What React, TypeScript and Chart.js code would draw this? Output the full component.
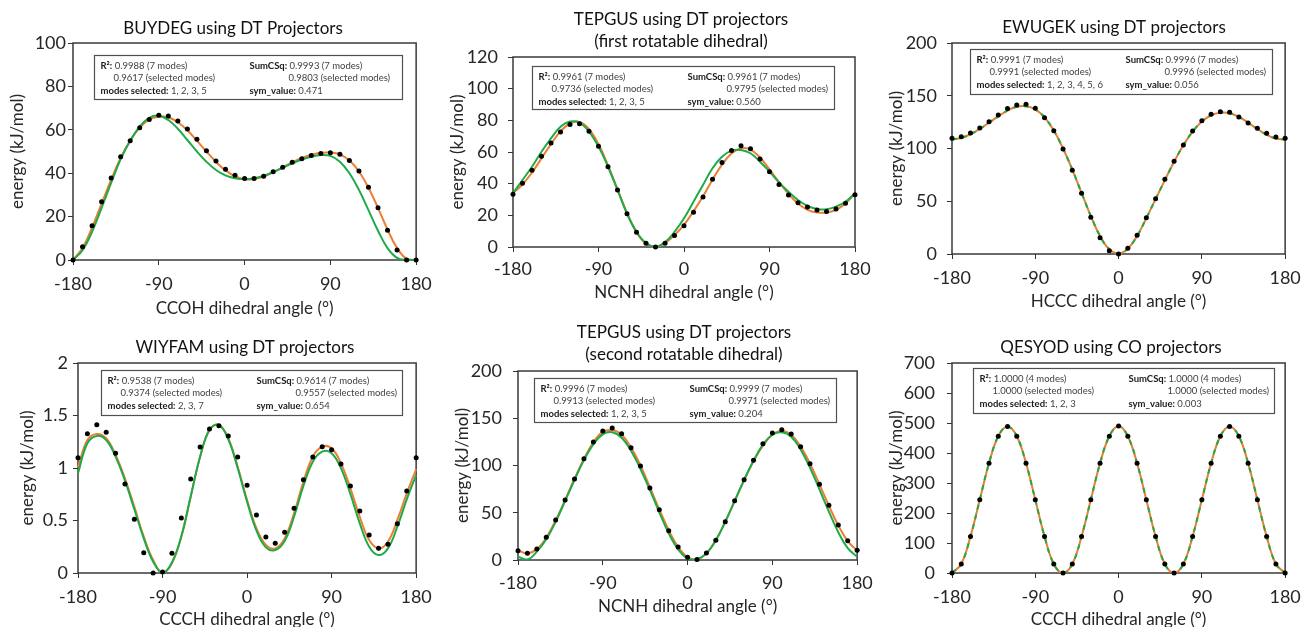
import React, { useEffect, useRef } from "react";
import { Chart, registerables } from "chart.js";

Chart.register(...registerables);

// ---------------- data ----------------
const ANGLES = [
  -180, -170, -160, -150, -140, -130, -120, -110, -100, -90, -80, -70, -60, -50, -40, -30, -20, -10,
  0, 10, 20, 30, 40, 50, 60, 70, 80, 90, 100, 110, 120, 130, 140, 150, 160, 170, 180,
];
const X_TICKS = [-180, -90, 0, 90, 180];

// BUYDEG
const BUYDEG_POINTS = [0, 6.1, 15.8, 26.9, 37.8, 47.6, 55, 61, 64.8, 66.7, 66.4, 64, 60.4, 55.6, 50.4, 45.6, 41.8, 39, 37.6, 37.6, 38.6, 40.7, 42.7, 45, 46.7, 48.2, 49.1, 49.4, 48.7, 45.8, 41, 33.5, 24.1, 13.7, 4.6, 0, 0];
const BUYDEG_FIT_ALL = [0, 5.5, 15, 26, 37, 47, 55, 61, 64.8, 66, 65.8, 63.5, 59.8, 55, 50, 45.2, 41.3, 38.6, 37.2, 37.4, 38.5, 40.5, 42.7, 45, 47, 48.5, 49.4, 49.5, 48.7, 45.8, 40.8, 33.3, 24, 14, 5.5, 0.5, 0];
const BUYDEG_FIT_SEL = [0, 4.5, 13, 24, 35.5, 46.5, 55, 61.5, 65.5, 66.5, 64.5, 60.5, 55.3, 50, 45.3, 41.5, 39, 37.7, 37.3, 37.7, 38.8, 40.5, 42.5, 44.5, 46.3, 47.6, 48.4, 48, 45.3, 40, 32.3, 23, 13.5, 5.5, 1, 0, 0];
const BUYDEG_Y_TICKS = [0, 20, 40, 60, 80, 100];
const BUYDEG_STATS = ["0.9988 (7 modes)", "0.9617 (selected modes)", "1, 2, 3, 5", "0.9993 (7 modes)", "0.9803 (selected modes)", "0.471"];

// TEPGUS first dihedral
const TEPGUS1_POINTS = [33.3, 40.2, 48.4, 57.3, 65.7, 72.6, 77.3, 77.9, 73.1, 63.6, 50.7, 36, 21, 9.3, 2.3, 0, 2.3, 7.2, 13.5, 21.9, 31.6, 42.8, 53.3, 60.9, 64, 62.1, 55.6, 47.6, 39.4, 32.8, 28, 25.3, 23.4, 22.5, 24, 27.6, 33];
const TEPGUS1_FIT_ALL = [34, 39.5, 47, 56, 65, 73, 78, 79, 74.5, 65, 51.5, 36.5, 21.5, 9.5, 2, 0, 2.5, 7.5, 14, 22.5, 32, 42.5, 52, 59, 62.3, 61.5, 56.5, 49, 41, 33.5, 27.5, 23.5, 21.8, 21.8, 23.5, 27.5, 34];
const TEPGUS1_FIT_SEL = [34, 42.3, 50.7, 60.2, 68.6, 76, 79.2, 78.6, 72.9, 63.4, 50.7, 36, 21, 9.5, 2.5, 0.2, 3, 9.5, 18.1, 28.6, 39.2, 49.7, 57, 60.9, 61.3, 59.2, 53.9, 47.6, 40.8, 34.9, 29.7, 25.9, 24, 23.8, 25.5, 28.6, 34];
const TEPGUS1_Y_TICKS = [0, 20, 40, 60, 80, 100, 120];
const TEPGUS1_STATS = ["0.9961 (7 modes)", "0.9736 (selected modes)", "1, 2, 3, 5", "0.9961 (7 modes)", "0.9795 (selected modes)", "0.560"];

// EWUGEK
const EWUGEK_POINTS = [109.7, 111.2, 114.7, 119.4, 125.4, 131.8, 137.8, 141.2, 141.9, 138.1, 129.2, 116.9, 99.5, 79.3, 57.5, 34.8, 15.5, 3.1, 0, 5.4, 17.7, 34.4, 52.4, 70.8, 87.9, 103.3, 116.6, 126.4, 132.4, 134.9, 134.3, 129.9, 124.2, 119.1, 114.4, 110.9, 109.7];
const EWUGEK_FIT_ALL = [108.5, 110, 113.5, 118.5, 124.5, 130.5, 136, 139.5, 140, 137, 129.5, 117, 100, 80, 58, 36, 17, 4.5, 0.5, 5, 17, 34, 52, 70, 87.5, 103, 116, 125.5, 131.5, 134, 133.5, 130, 124.5, 118.5, 113, 109.5, 108.5];
const EWUGEK_FIT_SEL = [108.5, 110, 113.5, 118.5, 124.5, 130.5, 136, 139.5, 140, 137, 129.5, 117, 100, 80, 58, 36, 17, 4.5, 0.5, 5, 17, 34, 52, 70, 87.5, 103, 116, 125.5, 131.5, 134, 133.5, 130, 124.5, 118.5, 113, 109.5, 108.5];
const EWUGEK_Y_TICKS = [0, 50, 100, 150, 200];
const EWUGEK_STATS = ["0.9991 (7 modes)", "0.9991 (selected modes)", "1, 2, 3, 4, 5, 6", "0.9996 (7 modes)", "0.9996 (selected modes)", "0.056"];

// WIYFAM
const WIYFAM_POINTS = [1.098, 1.327, 1.412, 1.34, 1.14, 0.848, 0.511, 0.194, 0.0, 0.01, 0.187, 0.524, 0.895, 1.2, 1.371, 1.403, 1.305, 1.105, 0.835, 0.552, 0.343, 0.283, 0.387, 0.616, 0.889, 1.105, 1.203, 1.175, 1.038, 0.829, 0.59, 0.362, 0.235, 0.273, 0.47, 0.781, 1.098];
const WIYFAM_FIT_ALL = [1.006, 1.267, 1.324, 1.283, 1.124, 0.9, 0.63, 0.346, 0.124, 0.0, 0.092, 0.346, 0.727, 1.108, 1.362, 1.41, 1.283, 1.012, 0.695, 0.425, 0.267, 0.235, 0.33, 0.568, 0.87, 1.108, 1.203, 1.187, 1.044, 0.807, 0.536, 0.314, 0.235, 0.298, 0.505, 0.759, 0.988];
const WIYFAM_FIT_SEL = [0.95, 1.235, 1.305, 1.267, 1.108, 0.879, 0.607, 0.33, 0.108, 0.0, 0.1, 0.35, 0.73, 1.108, 1.365, 1.41, 1.274, 1.0, 0.679, 0.403, 0.244, 0.219, 0.305, 0.536, 0.829, 1.06, 1.156, 1.14, 0.997, 0.752, 0.473, 0.25, 0.171, 0.235, 0.441, 0.702, 0.933];
const WIYFAM_Y_TICKS = [0, 0.5, 1, 1.5, 2];
const WIYFAM_STATS = ["0.9538 (7 modes)", "0.9374 (selected modes)", "2, 3, 7", "0.9614 (7 modes)", "0.9557 (selected modes)", "0.654"];

// TEPGUS second dihedral
const TEPGUS2_POINTS = [9.9, 7.1, 11.6, 24, 42.3, 63.5, 85.7, 107.2, 124.9, 136.5, 139.7, 133.7, 118.8, 99.5, 76.2, 53.2, 31, 13.8, 2.8, 0.5, 7.4, 20.8, 40.5, 62.8, 85, 105.5, 123.1, 134.4, 137.9, 133.3, 119.9, 101.9, 80.1, 57.9, 37, 20.4, 10.3];
const TEPGUS2_FIT_ALL = [10, 7, 11.5, 23.5, 42, 63.5, 86, 107, 124.5, 135.5, 137.5, 132.5, 119, 100, 77, 53.5, 31.5, 14, 3, 0.5, 7, 21, 40.5, 62.5, 84.5, 104.5, 121, 132.5, 136.5, 132.5, 120, 102, 80, 57.5, 36.5, 20, 10];
const TEPGUS2_FIT_SEL = [3.5, 0.5, 8.8, 21.9, 40.5, 62.4, 84.7, 105.8, 122.4, 133, 135.1, 129.4, 115.7, 96.3, 74.1, 50.5, 28.2, 11.3, 1.8, 0.8, 7, 20.8, 40.5, 62.4, 84.7, 105, 122, 132.5, 135.1, 130.5, 117, 97.6, 74.8, 51.2, 29.4, 12.5, 3.5];
const TEPGUS2_Y_TICKS = [0, 50, 100, 150, 200];
const TEPGUS2_STATS = ["0.9996 (7 modes)", "0.9913 (selected modes)", "1, 2, 3, 5", "0.9999 (7 modes)", "0.9971 (selected modes)", "0.204"];

// QESYOD
const QESYOD_POINTS = [0, 30, 122, 244, 366, 456, 488, 456, 366, 244, 122, 30, 0, 30, 122, 244, 366, 456, 490, 456, 366, 244, 122, 30, 0, 30, 122, 244, 366, 456, 488, 456, 366, 244, 122, 30, 0];
const QESYOD_FIT_ALL = [0, 30, 122, 244, 366, 456, 488, 456, 366, 244, 122, 30, 0, 30, 122, 244, 366, 456, 490, 456, 366, 244, 122, 30, 0, 30, 122, 244, 366, 456, 488, 456, 366, 244, 122, 30, 0];
const QESYOD_FIT_SEL = [0, 30, 122, 244, 366, 456, 488, 456, 366, 244, 122, 30, 0, 30, 122, 244, 366, 456, 490, 456, 366, 244, 122, 30, 0, 30, 122, 244, 366, 456, 488, 456, 366, 244, 122, 30, 0];
const QESYOD_Y_TICKS = [0, 100, 200, 300, 400, 500, 600, 700];
const QESYOD_STATS = ["1.0000 (4 modes)", "1.0000 (selected modes)", "1, 2, 3", "1.0000 (4 modes)", "1.0000 (selected modes)", "0.003"];

// ---------------- layout / style ----------------
const FONT = "Lato, 'Open Sans', sans-serif";
const ORANGE = "#ED7D31";
const GREEN = "#1FAA4A";
const TEXT = "#262626";

type PanelDef = {
  id: string;
  titleLines: string[];
  xTitle: string;
  points: (number | null)[];
  fitAll: number[];
  fitSel: number[];
  yTicks: number[];
  stats: string[];
  dashedSel: boolean;
  cv: [number, number, number, number];
  area: [number, number, number, number];
  titleX: number;
  titleY: number[];
  xTitleY: number;
  yTitleX: number;
  xTickY: number;
  yTickGap: number;
  box: [number, number, number, number];
};

const PANELS: PanelDef[] = [
  {
    id: "BUYDEG", titleLines: ["BUYDEG using DT Projectors"], xTitle: "CCOH dihedral angle (°)",
    points: BUYDEG_POINTS, fitAll: BUYDEG_FIT_ALL, fitSel: BUYDEG_FIT_SEL, yTicks: BUYDEG_Y_TICKS, stats: BUYDEG_STATS, dashedSel: false,
    cv: [0, 0, 440, 318], area: [73, 43, 423, 260], titleX: 233, titleY: [29], xTitleY: 309, yTitleX: 18, xTickY: 284, yTickGap: 7,
    box: [21, 12, 308, 44],
  },
  {
    id: "TEPGUS1", titleLines: ["TEPGUS using DT projectors", "(first rotatable dihedral)"], xTitle: "NCNH dihedral angle (°)",
    points: TEPGUS1_POINTS, fitAll: TEPGUS1_FIT_ALL, fitSel: TEPGUS1_FIT_SEL, yTicks: TEPGUS1_Y_TICKS, stats: TEPGUS1_STATS, dashedSel: false,
    cv: [440, 0, 440, 318], area: [513, 57, 855, 247], titleX: 681, titleY: [20, 42], xTitleY: 293, yTitleX: 458, xTickY: 269, yTickGap: 15,
    box: [19, 9, 302, 43],
  },
  {
    id: "EWUGEK", titleLines: ["EWUGEK using DT projectors"], xTitle: "HCCC dihedral angle (°)",
    points: EWUGEK_POINTS, fitAll: EWUGEK_FIT_ALL, fitSel: EWUGEK_FIT_SEL, yTicks: EWUGEK_Y_TICKS, stats: EWUGEK_STATS, dashedSel: true,
    cv: [880, 0, 429, 318], area: [952, 43, 1294, 254], titleX: 1114, titleY: [28], xTitleY: 302, yTitleX: 897, xTickY: 278, yTickGap: 15,
    box: [18, 6, 302, 45],
  },
  {
    id: "WIYFAM", titleLines: ["WIYFAM using DT projectors"], xTitle: "CCCH dihedral angle (°)",
    points: WIYFAM_POINTS, fitAll: WIYFAM_FIT_ALL, fitSel: WIYFAM_FIT_SEL, yTicks: WIYFAM_Y_TICKS, stats: WIYFAM_STATS, dashedSel: false,
    cv: [0, 318, 440, 309], area: [78, 363, 424, 573], titleX: 245, titleY: [348], xTitleY: 620, yTitleX: 28, xTickY: 597, yTickGap: 10,
    box: [23, 7, 301, 45],
  },
  {
    id: "TEPGUS2", titleLines: ["TEPGUS using DT projectors", "(second rotatable dihedral)"], xTitle: "NCNH dihedral angle (°)",
    points: TEPGUS2_POINTS, fitAll: TEPGUS2_FIT_ALL, fitSel: TEPGUS2_FIT_SEL, yTicks: TEPGUS2_Y_TICKS, stats: TEPGUS2_STATS, dashedSel: false,
    cv: [440, 318, 440, 309], area: [518, 371, 861, 560], titleX: 684, titleY: [333, 355], xTitleY: 607, yTitleX: 463, xTickY: 583, yTickGap: 16,
    box: [16, 7, 302, 44],
  },
  {
    id: "QESYOD", titleLines: ["QESYOD using CO projectors"], xTitle: "CCCH dihedral angle (°)",
    points: QESYOD_POINTS, fitAll: QESYOD_FIT_ALL, fitSel: QESYOD_FIT_SEL, yTicks: QESYOD_Y_TICKS, stats: QESYOD_STATS, dashedSel: true,
    cv: [880, 318, 429, 309], area: [952, 363, 1294, 573], titleX: 1111, titleY: [348], xTitleY: 620, yTitleX: 897, xTickY: 597, yTickGap: 17,
    box: [21, 5, 301, 45],
  },
];

const TICK_FONT = 18;
const AXIS_TITLE_FONT = 17;
const TITLE_FONT = 17;
const STATS_FONT = 9.5;
const TICK_LEN = 5;

function makeDecorPlugin(p: PanelDef) {
  return {
    id: "decor_" + p.id,
    beforeDatasetsDraw(chart: any) {
      const { ctx, chartArea } = chart;
      ctx.save();
      ctx.strokeStyle = "#3a3a3a";
      ctx.lineWidth = 1.5;
      ctx.strokeRect(chartArea.left, chartArea.top, chartArea.right - chartArea.left, chartArea.bottom - chartArea.top);
      ctx.restore();
    },
    afterDraw(chart: any) {
      const { ctx, chartArea } = chart;
      const [dx, dy, bw, bh] = p.box;
      const bx = Math.round(chartArea.left + dx) + 0.5;
      const by = Math.round(chartArea.top + dy) + 0.5;
      ctx.save();
      ctx.fillStyle = "#ffffff";
      ctx.fillRect(bx, by, bw, bh);
      ctx.strokeStyle = "#505050";
      ctx.lineWidth = 1.2;
      ctx.strokeRect(bx, by, bw, bh);
      ctx.textBaseline = "middle";
      ctx.textAlign = "left";
      const pair = (label: string, value: string, x: number, y: number) => {
        ctx.font = `bold ${STATS_FONT}px ${FONT}`;
        ctx.fillStyle = "#1a1a1a";
        ctx.fillText(label, x, y);
        const w = ctx.measureText(label).width;
        ctx.font = `${STATS_FONT}px ${FONT}`;
        ctx.fillStyle = "#404040";
        ctx.fillText(" " + value, x + w, y);
      };
      const plain = (value: string, x: number, y: number) => {
        ctx.font = `${STATS_FONT}px ${FONT}`;
        ctx.fillStyle = "#404040";
        ctx.fillText(value, x, y);
      };
      const y1 = by + 10, y2 = by + 22.5, y3 = by + 35;
      const [r2All, r2Sel, modes, scAll, scSel, sym] = p.stats;
      pair("R²:", r2All, bx + 6, y1);
      plain(r2Sel, bx + 19, y2);
      pair("modes selected:", modes, bx + 6, y3);
      pair("SumCSq:", scAll, bx + 155, y1);
      plain(scSel, bx + 194, y2);
      pair("sym_value:", sym, bx + 155, y3);
      ctx.font = `${TITLE_FONT}px ${FONT}`;
      ctx.fillStyle = "#111111";
      ctx.textAlign = "center";
      p.titleLines.forEach((line, i) => {
        ctx.fillText(line, p.titleX - p.cv[0], p.titleY[i] - p.cv[1]);
      });
      ctx.restore();
    },
  };
}

function PanelChart({ p }: { p: PanelDef }) {
  const ref = useRef<HTMLCanvasElement | null>(null);
  useEffect(() => {
    const canvas = ref.current;
    if (!canvas) return;
    const [cl, ct, cw, ch] = p.cv;
    const [al, at, ar, ab] = p.area;
    const yAxisW = al - cl;
    const xAxisH = ct + ch - ab;
    const tickLH = TICK_FONT * 1.2;
    const titleLH = AXIS_TITLE_FONT * 1.2;
    const xy = (vals: (number | null)[]) => ANGLES.map((a, i) => ({ x: a, y: vals[i] }));
    const yMax = p.yTicks[p.yTicks.length - 1];
    const yStep = p.yTicks[1] - p.yTicks[0];
    const chart = new Chart(canvas, {
      type: "line",
      data: {
        datasets: [
          {
            label: "DFT energies",
            data: xy(p.points),
            showLine: false,
            pointRadius: 2.5,
            pointBackgroundColor: "#000",
            pointBorderColor: "#000",
            pointBorderWidth: 0,
            clip: false,
          } as any,
          {
            label: "selected modes",
            data: xy(p.fitSel),
            borderColor: GREEN,
            borderWidth: 2,
            borderDash: p.dashedSel ? [5, 5] : [],
            pointRadius: 0,
            tension: 0.4,
            clip: 2,
          },
          {
            label: "all modes",
            data: xy(p.fitAll),
            borderColor: ORANGE,
            borderWidth: 2,
            pointRadius: 0,
            tension: 0.4,
            clip: 2,
          },
        ],
      },
      options: {
        responsive: false,
        animation: false,
        events: [],
        layout: { padding: { left: 0, top: at - ct, right: cl + cw - ar, bottom: 0 } },
        plugins: { legend: { display: false }, tooltip: { enabled: false }, title: { display: false } },
        scales: {
          x: {
            type: "linear",
            min: -180,
            max: 180,
            afterBuildTicks: (s: any) => { s.ticks = X_TICKS.map((v) => ({ value: v })); },
            ticks: {
              font: { family: FONT, size: TICK_FONT },
              color: TEXT,
              padding: p.xTickY - ab - TICK_LEN - tickLH / 2,
              maxRotation: 0,
              autoSkip: false,
            },
            grid: { drawOnChartArea: false, drawTicks: true, tickLength: TICK_LEN, color: "#333", lineWidth: 1 },
            border: { display: false },
            title: {
              display: true,
              text: p.xTitle,
              font: { family: FONT, size: AXIS_TITLE_FONT },
              color: TEXT,
              padding: { top: 0, bottom: ct + ch - p.xTitleY - titleLH / 2 },
            },
            afterFit: (s: any) => { s.height = xAxisH; },
          },
          y: {
            type: "linear",
            min: 0,
            max: yMax,
            afterBuildTicks: (s: any) => { s.ticks = p.yTicks.map((v) => ({ value: v })); },
            ticks: {
              stepSize: yStep,
              font: { family: FONT, size: TICK_FONT },
              color: TEXT,
              padding: p.yTickGap - TICK_LEN,
              callback: (v: any) => String(v),
            },
            grid: { drawOnChartArea: false, drawTicks: true, tickLength: TICK_LEN, color: "#333", lineWidth: 1 },
            border: { display: false },
            title: {
              display: true,
              text: "energy (kJ/mol)",
              font: { family: FONT, size: AXIS_TITLE_FONT },
              color: TEXT,
              padding: { top: p.yTitleX - cl - titleLH / 2, bottom: 0 },
            },
            afterFit: (s: any) => { s.width = yAxisW; },
          },
        },
      },
      plugins: [makeDecorPlugin(p)],
    });
    return () => chart.destroy();
  }, [p]);
  const [cl, ct, cw, ch] = p.cv;
  return (
    <canvas
      ref={ref}
      width={cw}
      height={ch}
      style={{ position: "absolute", left: cl, top: ct, width: cw, height: ch, display: "block" }}
    />
  );
}

export default function App() {
  return (
    <div style={{ position: "absolute", left: 0, top: 0, width: 1309, height: 627, background: "#fff", overflow: "hidden" }}>
      {PANELS.map((p) => (
        <PanelChart key={p.id} p={p} />
      ))}
    </div>
  );
}
